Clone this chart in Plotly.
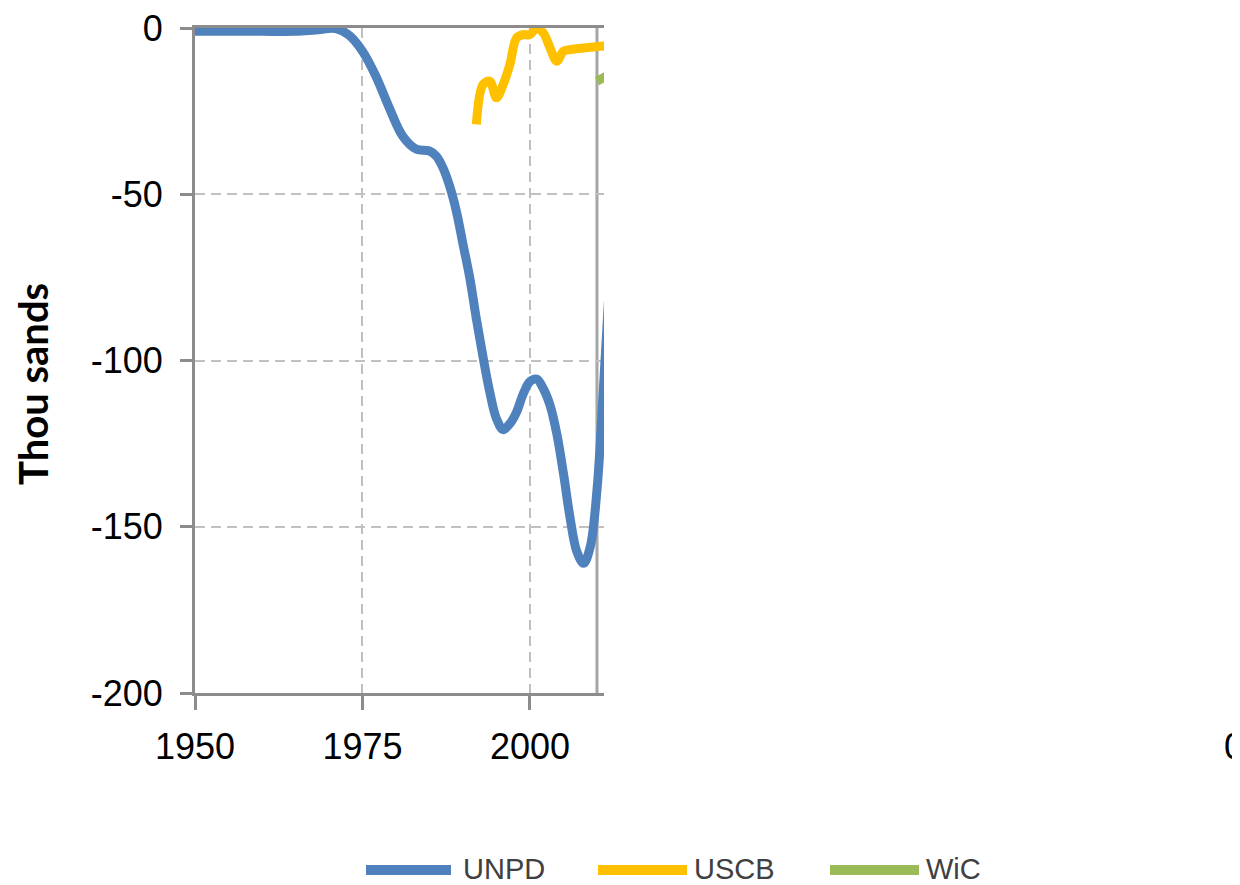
import plotly.graph_objects as go

# net migration, thousands
unpd_years = [1950, 1955, 1960, 1965, 1968, 1971, 1973, 1975, 1977, 1979, 1981, 1983,
              1985, 1986, 1987, 1988, 1989, 1990, 1991, 1992, 1993, 1994, 1995, 1996,
              1997, 1998, 1999, 2000, 2001, 2002, 2003, 2004, 2005, 2006, 2007, 2008,
              2009, 2010, 2011, 2012]
unpd_vals = [-1.0, -1.0, -1.0, -1.0, -0.6, -0.2, -2.2, -7, -14.5, -24, -32.5, -36.4,
             -37, -38.5, -42, -47.5, -55, -65, -75, -87.5, -99, -109.5, -117.5, -120.8,
             -119, -115.5, -110, -106.3, -105.6, -108.5, -113.5, -122, -134, -147.5,
             -157.5, -161, -156, -139, -107, -72]

uscb_years = [1992, 1993, 1994, 1995, 1996, 1997, 1998, 1999, 2000, 2001, 2002, 2003,
              2004, 2005, 2006, 2007, 2008, 2009, 2010, 2011, 2012]
uscb_vals = [-29, -17, -16, -21, -17, -11, -3, -2, -2, 0, -1.5, -6,
             -10, -7, -6.5, -6.2, -6, -5.8, -5.6, -5.4, -5.2]

wic_years = [2010, 2015]
wic_vals = [-16, -10.5]

x_ticks = [1950, 1975, 2000]
y_ticks = [0, -50, -100, -150, -200]

series = [
    ("UNPD", unpd_years, unpd_vals, "#4F81BD"),
    ("USCB", uscb_years, uscb_vals, "#FFC000"),
    ("WiC", wic_years, wic_vals, "#9BBB59"),
]

sans = "Liberation Sans, Arial, sans-serif"

# the page body adds an 8px margin, so work in screen pixels and shift
OFF = 8
W, H = 1240 - OFF, 885 - OFF
L, R, T, B = 195 - OFF, 604 - OFF, 28 - OFF, 693 - OFF


def px_x(px):
    return (px - OFF - L) / (R - L)


def px_y(py):
    return (B - (py - OFF)) / (B - T)


fig = go.Figure()
for name, xs, ys, col in series:
    fig.add_trace(go.Scatter(x=xs, y=ys, mode="lines", name=name,
                             line=dict(color=col, width=9, shape="spline", smoothing=1)))

fig.add_vline(x=2010, line=dict(color="#A6A6A6", width=3), layer="below")

# legend drawn by hand so the line samples are long
legend_pos = [(366, 451, 461), (598, 687, 692), (830, 919, 924)]
for (name, xs, ys, col), (a, b, t) in zip(series, legend_pos):
    fig.add_shape(type="line", xref="paper", yref="paper",
                  x0=px_x(a), x1=px_x(b), y0=px_y(870), y1=px_y(870),
                  line=dict(color=col, width=10))
    fig.add_annotation(text=name, xref="paper", yref="paper", x=px_x(t), y=px_y(869),
                       xanchor="left", yanchor="middle", showarrow=False,
                       font=dict(family=sans, size=29, color="#404040"))

fig.add_annotation(text="Thou sands", xref="paper", yref="paper",
                   x=px_x(33), y=px_y(384), textangle=-90, showarrow=False,
                   xanchor="center", yanchor="middle",
                   font=dict(family="Lato", size=40, color="#000000", weight="bold"))

# tick label of the neighbouring panel, cut by the frame
fig.add_annotation(text="0", xref="paper", yref="paper", x=px_x(1222), y=px_y(746),
                   xanchor="left", yanchor="middle", showarrow=False,
                   font=dict(family=sans, size=36, color="#000000"))

fig.update_xaxes(range=[1950, 2011.05], tickvals=x_ticks, ticktext=[str(v) for v in x_ticks],
                 showline=True, linecolor="#8C8C8C", linewidth=3, mirror=True,
                 ticks="outside", ticklen=14, tickwidth=3, tickcolor="#8C8C8C",
                 showgrid=True, gridcolor="#C0C0C0", gridwidth=2, griddash="10px,6px",
                 zeroline=False, ticklabelstandoff=6, automargin=False,
                 ticklabeloverflow="allow",
                 tickfont=dict(family=sans, size=36, color="#000000"))
fig.update_yaxes(range=[-200, 0], tickvals=y_ticks, ticktext=[str(v) for v in y_ticks],
                 showline=True, linecolor="#8C8C8C", linewidth=3,
                 ticks="outside", ticklen=12, tickwidth=3, tickcolor="#8C8C8C",
                 showgrid=True, gridcolor="#C0C0C0", gridwidth=2, griddash="10px,6px",
                 zeroline=False, ticklabelstandoff=10, automargin=False,
                 ticklabeloverflow="allow",
                 tickfont=dict(family=sans, size=36, color="#000000"))

fig.update_layout(width=W, height=H, showlegend=False,
                  margin=dict(l=L, r=W - R, t=T, b=H - B, autoexpand=False),
                  plot_bgcolor="white", paper_bgcolor="white")

fig.write_html("out.html")
